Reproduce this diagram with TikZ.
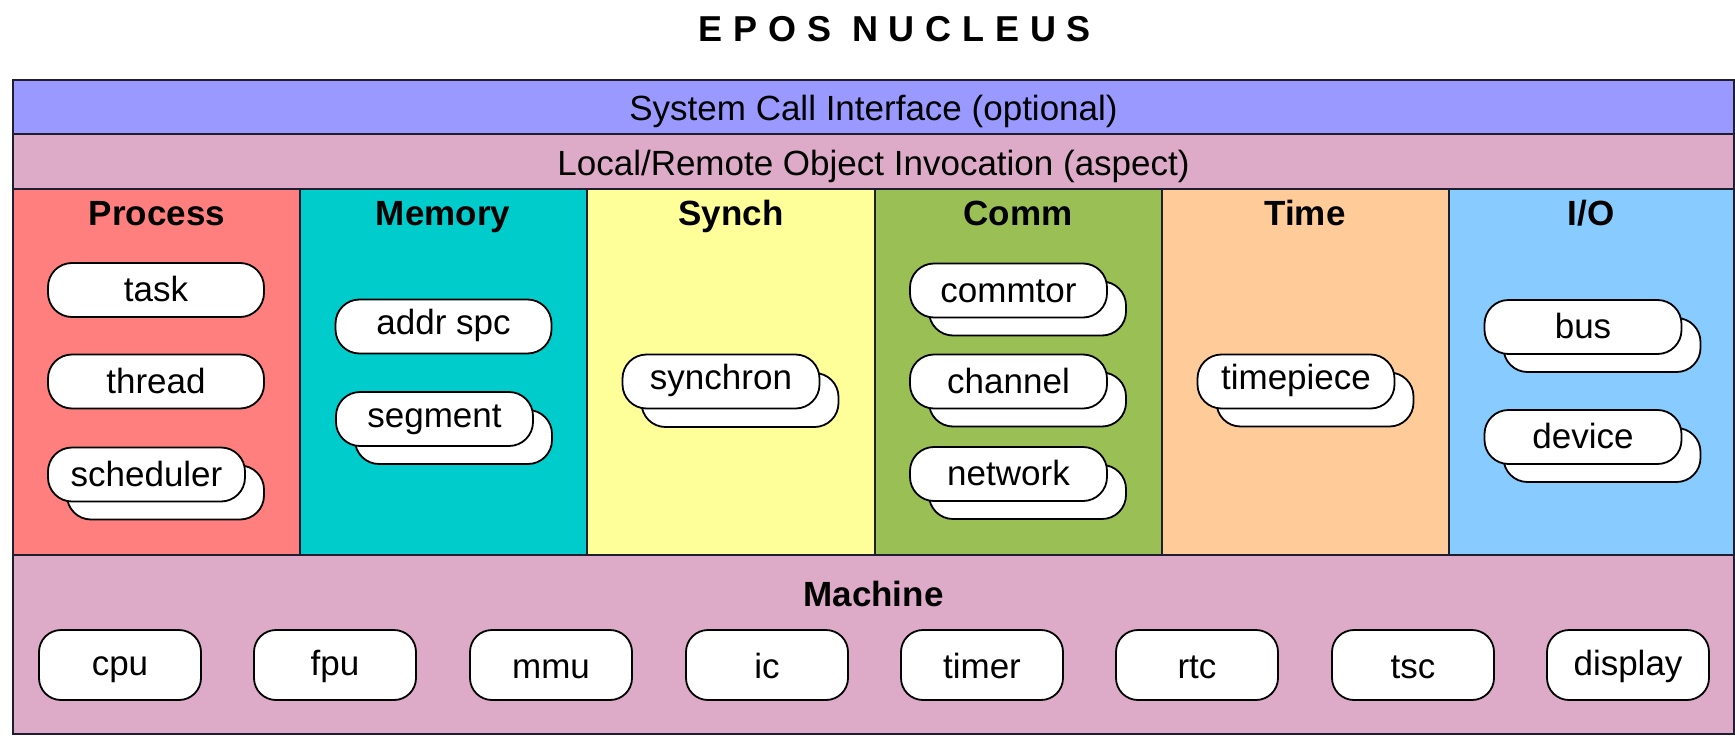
\documentclass[tikz,border=0pt]{standalone}
\usepackage{fontspec}
\setmainfont{Liberation Sans}
\definecolor{bandA}{HTML}{9999FF}
\definecolor{bandB}{HTML}{DDAAC8}
\definecolor{cProc}{HTML}{FF7F7F}
\definecolor{cMem}{HTML}{00CCCC}
\definecolor{cSyn}{HTML}{FFFF99}
\definecolor{cCom}{HTML}{99BF55}
\definecolor{cTim}{HTML}{FFCC99}
\definecolor{cIO}{HTML}{88CCFF}
\definecolor{edgec}{HTML}{1E1E30}
\newcommand{\dfont}{\fontsize{35}{42}\selectfont}
\tikzset{
  layer/.style={draw=edgec, line width=2pt},
  bub/.style={draw=black, line width=1.8pt, fill=white, rounded corners=24pt,
    minimum height=54pt, inner sep=0pt, text height=24pt, font=\dfont},
  bubw/.style={bub, minimum width=216pt},
  bubf/.style={bub, minimum width=197pt},
  mach/.style={draw=black, line width=1.8pt, fill=white, rounded corners=22pt,
    minimum width=162pt, minimum height=70pt, inner sep=0pt, text height=28pt, font=\dfont},
  hdr/.style={anchor=base, inner sep=0pt, font=\dfont\bfseries},
  band/.style={anchor=base, inner sep=0pt, font=\dfont},
}
\begin{document}
\begin{tikzpicture}[x=1pt,y=-1pt]
\useasboundingbox (0,0) rectangle (1735,736);
\fill[white] (0,0) rectangle (1735,736);

% title
\node[anchor=base, inner sep=0pt, font=\fontsize{36}{42}\selectfont\bfseries\addfontfeature{LetterSpace=30}] (title) at (895,41) {EPOS NUCLEUS};

% bands
\path[layer, fill=bandA] (13,80) rectangle (1734,134);
\path[layer, fill=bandB] (13,134) rectangle (1734,189);
\node[band] (sci) at (873.5,120) {System Call Interface (optional)};
\node[band] (lro) at (873.5,175) {Local/Remote Object Invocation (aspect)};

% columns
\path[layer, fill=cProc] (13,189) rectangle (300,555);
\path[layer, fill=cMem] (300,189) rectangle (587,555);
\path[layer, fill=cSyn] (587,189) rectangle (875,555);
\path[layer, fill=cCom] (875,189) rectangle (1162,555);
\path[layer, fill=cTim] (1162,189) rectangle (1449,555);
\path[layer, fill=cIO] (1449,189) rectangle (1734,555);

\node[hdr] (hproc) at (157,225) {Process};
\node[hdr] (hmem) at (443,225) {Memory};
\node[hdr] (hsyn) at (731,225) {Synch};
\node[hdr] (hcom) at (1018,225) {Comm};
\node[hdr] (htim) at (1305,225) {Time};
\node[hdr] (hio) at (1591,225) {I/O};

% Process
\node[bubw] (task) at (156,290) {task};
\node[bubw] (thread) at (156,381.5) {thread};
\node[bubf] (schedS) at (165.5,492.5) {};
\node[bubf] (sched) at (146.5,474.5) {scheduler};

% Memory
\node[bubw] (addr) at (443.5,326.5) {addr spc};
\node[bubf] (segS) at (453.5,437) {};
\node[bubf] (seg) at (434.5,419) {segment};

% Synch
\node[bubf] (synS) at (740,400) {};
\node[bubf] (syn) at (721,381.5) {synchron};

% Comm
\node[bubf] (comS) at (1027.5,308.5) {};
\node[bubf] (com) at (1008.5,290.5) {commtor};
\node[bubf] (chanS) at (1027.5,399.5) {};
\node[bubf] (chan) at (1008.5,381.5) {channel};
\node[bubf] (netS) at (1027.5,492) {};
\node[bubf] (net) at (1008.5,474) {network};

% Time
\node[bubf] (timS) at (1315,399.5) {};
\node[bubf] (tim) at (1296,381.5) {timepiece};

% I/O
\node[bubf] (busS) at (1602,345) {};
\node[bubf] (bus) at (1583,327) {bus};
\node[bubf] (devS) at (1602,455) {};
\node[bubf] (dev) at (1583,437) {device};

% Machine
\path[layer, fill=bandB] (13,555) rectangle (1734,734);
\node[hdr] (hmach) at (873.5,606) {Machine};
\node[mach] (cpu) at (120,665) {cpu};
\node[mach] (fpu) at (335,665) {fpu};
\node[mach] (mmu) at (551,665) {mmu};
\node[mach] (ic) at (767,665) {ic};
\node[mach] (timer) at (982,665) {timer};
\node[mach] (rtc) at (1197,665) {rtc};
\node[mach] (tsc) at (1413,665) {tsc};
\node[mach] (disp) at (1628,665) {display};
\end{tikzpicture}
\end{document}
